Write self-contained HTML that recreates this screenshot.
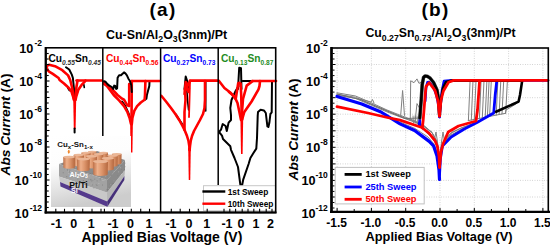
<!DOCTYPE html>
<html><head><meta charset="utf-8"><style>
html,body{margin:0;padding:0;background:#fff;width:550px;height:246px;overflow:hidden}
svg{display:block}
</style></head><body>
<svg width="550" height="246" viewBox="0 0 550 246">
<rect width="550" height="246" fill="#fff"/>
<polyline points="66.0,67.3 69.2,69.5 71.8,74.6 72.9,78.0 73.5,84.0 73.9,88.0 74.3,96.0" fill="none" stroke="#000000" stroke-width="2.0" stroke-linejoin="round" stroke-linecap="round" />
<polyline points="67.8,88.0 69.4,90.6" fill="none" stroke="#000000" stroke-width="1.6" stroke-linejoin="round" stroke-linecap="round" />
<polyline points="83.8,84.5 84.3,87.5" fill="none" stroke="#000000" stroke-width="1.6" stroke-linejoin="round" stroke-linecap="round" />
<polyline points="47.0,65.9 49.1,64.8 55.0,66.2 62.3,70.2 68.1,75.4 70.2,80.0 72.2,88.0 73.4,96.3 74.3,100.0" fill="none" stroke="#ff0000" stroke-width="2.6" stroke-linejoin="round" stroke-linecap="round" />
<polyline points="46.9,68.0 47.7,70.2 49.1,71.7 52.8,73.9 58.6,78.0 59.6,80.0 64.0,83.5 68.6,87.7 71.4,91.4 73.0,96.3 73.9,100.0" fill="none" stroke="#ff0000" stroke-width="2.6" stroke-linejoin="round" stroke-linecap="round" />
<polyline points="77.5,80.5 76.3,88.0 75.5,96.3 75.0,100.0" fill="none" stroke="#ff0000" stroke-width="2.6" stroke-linejoin="round" stroke-linecap="round" />
<polyline points="85.5,80.5 84.8,81.6 81.6,84.9 78.3,89.8 76.3,96.3 75.5,100.0" fill="none" stroke="#ff0000" stroke-width="2.6" stroke-linejoin="round" stroke-linecap="round" />
<polygon points="73.20,98 76.20,98 75.60,129 73.80,129" fill="#ff0000"/>
<polyline points="74.6,128.5 74.6,132.5" fill="none" stroke="#000000" stroke-width="2" stroke-linejoin="round" stroke-linecap="round" />
<polyline points="76.5,80.5 102.0,80.5" fill="none" stroke="#ff0000" stroke-width="2.6" stroke-linejoin="round" stroke-linecap="round" />
<polyline points="122.0,101.5 125.0,105.5 128.7,113.7 130.5,119.0" fill="none" stroke="#000000" stroke-width="2.0" stroke-linejoin="round" stroke-linecap="round" />
<polyline points="149.5,81.8 149.3,86.0 146.9,95.0 146.4,98.7 145.0,99.7" fill="none" stroke="#000000" stroke-width="2.0" stroke-linejoin="round" stroke-linecap="round" />
<polyline points="104.0,82.0 107.0,86.0 113.7,95.0 119.3,100.6 124.0,106.2 127.3,111.8 129.6,118.0 131.0,124.0" fill="none" stroke="#ff0000" stroke-width="2.6" stroke-linejoin="round" stroke-linecap="round" />
<polyline points="104.0,84.0 111.8,89.0 117.5,95.0 122.1,98.7 124.0,99.7 127.3,105.3 129.2,106.0 129.2,84.0" fill="none" stroke="#ff0000" stroke-width="2.6" stroke-linejoin="round" stroke-linecap="round" />
<polyline points="131.8,81.0 131.5,124.0" fill="none" stroke="#ff0000" stroke-width="2.6" stroke-linejoin="round" stroke-linecap="round" />
<polyline points="131.8,81.0 160.0,81.0" fill="none" stroke="#ff0000" stroke-width="2.6" stroke-linejoin="round" stroke-linecap="round" />
<polyline points="145.4,81.0 145.0,95.0 144.6,99.7 140.8,102.5 137.1,106.2 134.3,110.9 132.4,118.0 131.8,124.0" fill="none" stroke="#ff0000" stroke-width="2.6" stroke-linejoin="round" stroke-linecap="round" />
<polygon points="130.10,122 132.90,122 132.40,152.6 130.60,152.6" fill="#ff0000"/>
<polyline points="104.0,81.2 105.4,81.7 107.4,84.1 109.3,85.6 111.8,87.0 113.2,89.0 114.2,85.6 115.2,86.0 116.2,89.0 117.1,88.5 117.6,77.8 119.1,75.3 121.0,75.3 122.0,74.3 124.0,72.4 125.4,73.4 126.9,75.3 128.4,78.7 129.8,80.7 131.3,85.1 131.8,92.0" fill="none" stroke="#000000" stroke-width="2.0" stroke-linejoin="round" stroke-linecap="round" />
<polyline points="184.5,89.0 185.7,76.5 188.0,83.6 189.2,89.0" fill="none" stroke="#000000" stroke-width="2.0" stroke-linejoin="round" stroke-linecap="round" />
<polyline points="186.5,84.0 187.5,100.0 188.6,110.0" fill="none" stroke="#000000" stroke-width="1.6" stroke-linejoin="round" stroke-linecap="round" />
<polyline points="205.7,81.0 205.7,111.0" fill="none" stroke="#000000" stroke-width="1.6" stroke-linejoin="round" stroke-linecap="round" />
<polyline points="175.7,114.4 182.8,125.0" fill="none" stroke="#000000" stroke-width="2.0" stroke-linejoin="round" stroke-linecap="round" />
<polyline points="184.6,94.0 185.7,82.0 188.0,85.5 190.0,81.0" fill="none" stroke="#ff0000" stroke-width="2.6" stroke-linejoin="round" stroke-linecap="round" />
<polyline points="185.5,90.0 187.0,86.0 188.5,92.0" fill="none" stroke="#ff0000" stroke-width="2.6" stroke-linejoin="round" stroke-linecap="round" />
<polyline points="190.0,80.6 218.0,80.6" fill="none" stroke="#ff0000" stroke-width="2.6" stroke-linejoin="round" stroke-linecap="round" />
<polyline points="185.0,89.0 185.5,100.0 184.5,112.0 184.5,130.0" fill="none" stroke="#ff0000" stroke-width="2.6" stroke-linejoin="round" stroke-linecap="round" />
<polyline points="190.0,81.0 189.5,100.0 189.0,117.0" fill="none" stroke="#ff0000" stroke-width="1.8" stroke-linejoin="round" stroke-linecap="round" />
<polyline points="161.5,96.0 166.0,101.5 171.0,108.0 175.7,114.5 179.5,120.5 182.5,126.0 185.0,131.0 187.0,136.0 188.5,141.0 189.3,146.0 189.6,150.0" fill="none" stroke="#ff0000" stroke-width="2.6" stroke-linejoin="round" stroke-linecap="round" />
<polyline points="205.0,81.0 205.0,100.0 204.5,108.0 203.0,114.0 200.0,120.0 197.0,125.5 194.0,131.0 192.0,136.0 190.7,141.0 190.0,146.0 189.6,150.0" fill="none" stroke="#ff0000" stroke-width="2.6" stroke-linejoin="round" stroke-linecap="round" />
<polygon points="188.20,148 190.80,148 190.25,180 188.75,180" fill="#ff0000"/>
<polyline points="238.0,89.0 239.2,67.7 241.0,68.3 241.5,89.0" fill="none" stroke="#000000" stroke-width="2.0" stroke-linejoin="round" stroke-linecap="round" />
<polyline points="238.6,86.0 235.6,91.0 231.5,100.0 230.3,108.0 231.0,115.0 231.0,120.0 228.6,122.6 226.8,131.0 225.6,126.0 222.7,124.0 221.0,129.7 219.0,132.0 222.0,135.6 223.0,139.0 230.3,146.3 231.0,149.8 234.5,158.0 238.0,167.0 240.4,185.2 242.0,185.8 243.3,179.3 248.6,164.0 250.4,158.0 253.3,153.3 256.3,148.6 257.0,138.0 257.7,116.0 258.0,112.0 260.6,109.8 263.9,110.4 265.8,113.0 267.4,126.4 268.4,127.0 269.4,122.5 270.4,114.0 271.7,112.4 272.0,81.0 242.7,81.0" fill="none" stroke="#000000" stroke-width="2.0" stroke-linejoin="round" stroke-linecap="round" />
<polyline points="219.0,81.0 224.4,88.0 230.9,93.0 235.7,99.0 238.2,83.2 239.5,82.8 240.6,83.5 241.2,95.0 241.6,110.0 241.8,120.0" fill="none" stroke="#ff0000" stroke-width="2.6" stroke-linejoin="round" stroke-linecap="round" />
<polyline points="229.0,92.0 234.5,96.6 237.5,103.0 239.4,112.0 241.0,120.0" fill="none" stroke="#ff0000" stroke-width="2.6" stroke-linejoin="round" stroke-linecap="round" />
<polyline points="252.8,81.0 246.7,85.6 243.0,99.0 242.0,112.0 241.8,120.0" fill="none" stroke="#ff0000" stroke-width="2.6" stroke-linejoin="round" stroke-linecap="round" />
<polyline points="260.0,81.0 259.5,86.0 258.5,89.3 251.6,101.5 244.3,112.0 242.0,120.0" fill="none" stroke="#ff0000" stroke-width="2.6" stroke-linejoin="round" stroke-linecap="round" />
<polyline points="252.0,81.0 276.0,81.0" fill="none" stroke="#ff0000" stroke-width="2.6" stroke-linejoin="round" stroke-linecap="round" />
<polygon points="240.40,118 243.20,118 242.60,154 241.00,154" fill="#ff0000"/>

<defs>
 <linearGradient id="ibg" x1="0" y1="0" x2="0.25" y2="1">
  <stop offset="0" stop-color="#ffffff"/><stop offset="0.4" stop-color="#fdfdfd"/><stop offset="0.75" stop-color="#e2e2e2"/><stop offset="1" stop-color="#cdcdcd"/>
 </linearGradient>
 <linearGradient id="cyl" x1="0" y1="0" x2="1" y2="0">
  <stop offset="0" stop-color="#bd7048"/><stop offset="0.3" stop-color="#eeb08a"/><stop offset="0.6" stop-color="#dc946a"/><stop offset="1" stop-color="#b5683f"/>
 </linearGradient>
 <filter id="noise" x="0" y="0" width="1" height="1">
  <feTurbulence type="fractalNoise" baseFrequency="0.9" numOctaves="1" seed="3"/>
  <feColorMatrix values="0 0 0 0 0.3  0 0 0 0 0.3  0 0 0 0 0.3  0 0 0 3 -1.35"/>
  <feComposite in2="SourceGraphic" operator="in"/>
 </filter>
</defs>
<rect x="47" y="136" width="84" height="38" fill="#fff"/><rect x="51" y="136" width="80" height="71" fill="url(#ibg)"/>

<polygon points="59,164 107,180 125,160 97,151" fill="#8c8c8c"/>
<polygon points="59,164 107,180 107,192.5 59,176.6" fill="#a2a2a2"/>
<polygon points="59,176.6 107,192.5 107.2,201.5 60,182" fill="#c8c8c8"/>
<polygon points="60,182 107.2,201.5 107.4,206.7 60.5,186.5" fill="#553a8c"/>
<polygon points="107,180 125,160 125,170 107,192.5" fill="#8a8a8a"/>
<polygon points="107,192.5 125,170 124.5,176 107.2,201.5" fill="#b6b6b6"/>
<polygon points="107.2,201.5 124.5,176 124.3,180 107.4,206.7" fill="#46307a"/>
<rect x="62.8" y="172.3" width="0.9" height="0.9" fill="rgb(90,90,90)" opacity="0.45"/><rect x="64.7" y="168.6" width="0.9" height="0.9" fill="rgb(110,110,110)" opacity="0.45"/><rect x="65.0" y="168.8" width="0.9" height="0.9" fill="rgb(200,200,200)" opacity="0.45"/><rect x="70.9" y="175.4" width="0.9" height="0.9" fill="rgb(215,215,215)" opacity="0.45"/><rect x="94.1" y="183.6" width="0.9" height="0.9" fill="rgb(180,180,180)" opacity="0.45"/><rect x="66.8" y="168.6" width="0.9" height="0.9" fill="rgb(120,120,120)" opacity="0.45"/><rect x="69.0" y="171.5" width="0.9" height="0.9" fill="rgb(90,90,90)" opacity="0.45"/><rect x="95.8" y="184.1" width="0.9" height="0.9" fill="rgb(120,120,120)" opacity="0.45"/><rect x="91.8" y="184.5" width="0.9" height="0.9" fill="rgb(90,90,90)" opacity="0.45"/><rect x="90.3" y="178.9" width="0.9" height="0.9" fill="rgb(90,90,90)" opacity="0.45"/><rect x="97.1" y="179.6" width="0.9" height="0.9" fill="rgb(180,180,180)" opacity="0.45"/><rect x="88.6" y="174.1" width="0.9" height="0.9" fill="rgb(110,110,110)" opacity="0.45"/><rect x="74.4" y="171.4" width="0.9" height="0.9" fill="rgb(200,200,200)" opacity="0.45"/><rect x="68.6" y="173.5" width="0.9" height="0.9" fill="rgb(200,200,200)" opacity="0.45"/><rect x="99.8" y="179.4" width="0.9" height="0.9" fill="rgb(90,90,90)" opacity="0.45"/><rect x="66.3" y="176.2" width="0.9" height="0.9" fill="rgb(90,90,90)" opacity="0.45"/><rect x="65.7" y="166.3" width="0.9" height="0.9" fill="rgb(90,90,90)" opacity="0.45"/><rect x="83.8" y="177.6" width="0.9" height="0.9" fill="rgb(120,120,120)" opacity="0.45"/><rect x="66.6" y="171.5" width="0.9" height="0.9" fill="rgb(180,180,180)" opacity="0.45"/><rect x="82.9" y="180.0" width="0.9" height="0.9" fill="rgb(90,90,90)" opacity="0.45"/><rect x="73.7" y="173.7" width="0.9" height="0.9" fill="rgb(200,200,200)" opacity="0.45"/><rect x="74.0" y="172.7" width="0.9" height="0.9" fill="rgb(120,120,120)" opacity="0.45"/><rect x="71.8" y="176.4" width="0.9" height="0.9" fill="rgb(120,120,120)" opacity="0.45"/><rect x="72.5" y="177.2" width="0.9" height="0.9" fill="rgb(200,200,200)" opacity="0.45"/><rect x="102.1" y="184.6" width="0.9" height="0.9" fill="rgb(90,90,90)" opacity="0.45"/><rect x="84.6" y="180.9" width="0.9" height="0.9" fill="rgb(110,110,110)" opacity="0.45"/><rect x="89.2" y="175.5" width="0.9" height="0.9" fill="rgb(200,200,200)" opacity="0.45"/><rect x="70.4" y="170.9" width="0.9" height="0.9" fill="rgb(215,215,215)" opacity="0.45"/><rect x="90.8" y="183.6" width="0.9" height="0.9" fill="rgb(200,200,200)" opacity="0.45"/><rect x="77.3" y="172.3" width="0.9" height="0.9" fill="rgb(180,180,180)" opacity="0.45"/><rect x="93.5" y="187.8" width="0.9" height="0.9" fill="rgb(120,120,120)" opacity="0.45"/><rect x="72.4" y="169.8" width="0.9" height="0.9" fill="rgb(180,180,180)" opacity="0.45"/><rect x="67.0" y="169.6" width="0.9" height="0.9" fill="rgb(90,90,90)" opacity="0.45"/><rect x="68.1" y="170.6" width="0.9" height="0.9" fill="rgb(215,215,215)" opacity="0.45"/><rect x="80.0" y="181.3" width="0.9" height="0.9" fill="rgb(90,90,90)" opacity="0.45"/><rect x="103.6" y="190.7" width="0.9" height="0.9" fill="rgb(180,180,180)" opacity="0.45"/><rect x="96.7" y="180.4" width="0.9" height="0.9" fill="rgb(90,90,90)" opacity="0.45"/><rect x="105.8" y="190.4" width="0.9" height="0.9" fill="rgb(110,110,110)" opacity="0.45"/><rect x="88.4" y="179.2" width="0.9" height="0.9" fill="rgb(120,120,120)" opacity="0.45"/><rect x="71.5" y="170.9" width="0.9" height="0.9" fill="rgb(180,180,180)" opacity="0.45"/><rect x="92.4" y="179.9" width="0.9" height="0.9" fill="rgb(110,110,110)" opacity="0.45"/><rect x="69.4" y="169.7" width="0.9" height="0.9" fill="rgb(120,120,120)" opacity="0.45"/><rect x="77.4" y="178.6" width="0.9" height="0.9" fill="rgb(110,110,110)" opacity="0.45"/><rect x="74.4" y="175.6" width="0.9" height="0.9" fill="rgb(200,200,200)" opacity="0.45"/><rect x="98.4" y="183.1" width="0.9" height="0.9" fill="rgb(215,215,215)" opacity="0.45"/><rect x="68.2" y="173.0" width="0.9" height="0.9" fill="rgb(200,200,200)" opacity="0.45"/><rect x="96.5" y="185.1" width="0.9" height="0.9" fill="rgb(90,90,90)" opacity="0.45"/><rect x="94.3" y="178.7" width="0.9" height="0.9" fill="rgb(90,90,90)" opacity="0.45"/><rect x="74.2" y="178.3" width="0.9" height="0.9" fill="rgb(180,180,180)" opacity="0.45"/><rect x="90.6" y="179.7" width="0.9" height="0.9" fill="rgb(90,90,90)" opacity="0.45"/><rect x="99.7" y="178.0" width="0.9" height="0.9" fill="rgb(90,90,90)" opacity="0.45"/><rect x="102.0" y="180.1" width="0.9" height="0.9" fill="rgb(200,200,200)" opacity="0.45"/><rect x="103.4" y="180.1" width="0.9" height="0.9" fill="rgb(215,215,215)" opacity="0.45"/><rect x="91.3" y="180.8" width="0.9" height="0.9" fill="rgb(120,120,120)" opacity="0.45"/><rect x="89.3" y="185.4" width="0.9" height="0.9" fill="rgb(180,180,180)" opacity="0.45"/><rect x="82.7" y="176.3" width="0.9" height="0.9" fill="rgb(215,215,215)" opacity="0.45"/><rect x="106.1" y="188.9" width="0.9" height="0.9" fill="rgb(120,120,120)" opacity="0.45"/><rect x="108.9" y="186.9" width="0.9" height="0.9" fill="rgb(120,120,120)" opacity="0.45"/><rect x="121.1" y="174.1" width="0.9" height="0.9" fill="rgb(215,215,215)" opacity="0.45"/><rect x="113.5" y="180.4" width="0.9" height="0.9" fill="rgb(180,180,180)" opacity="0.45"/><rect x="124.8" y="162.7" width="0.9" height="0.9" fill="rgb(120,120,120)" opacity="0.45"/><rect x="121.8" y="171.8" width="0.9" height="0.9" fill="rgb(110,110,110)" opacity="0.45"/><rect x="118.2" y="171.4" width="0.9" height="0.9" fill="rgb(215,215,215)" opacity="0.45"/><rect x="124.0" y="169.6" width="0.9" height="0.9" fill="rgb(90,90,90)" opacity="0.45"/><rect x="112.6" y="183.2" width="0.9" height="0.9" fill="rgb(90,90,90)" opacity="0.45"/><rect x="110.2" y="184.2" width="0.9" height="0.9" fill="rgb(180,180,180)" opacity="0.45"/><rect x="109.1" y="183.7" width="0.9" height="0.9" fill="rgb(120,120,120)" opacity="0.45"/><rect x="117.4" y="175.3" width="0.9" height="0.9" fill="rgb(120,120,120)" opacity="0.45"/><rect x="107.3" y="189.4" width="0.9" height="0.9" fill="rgb(90,90,90)" opacity="0.45"/><rect x="108.2" y="188.1" width="0.9" height="0.9" fill="rgb(180,180,180)" opacity="0.45"/><rect x="124.8" y="166.3" width="0.9" height="0.9" fill="rgb(110,110,110)" opacity="0.45"/><rect x="121.2" y="169.2" width="0.9" height="0.9" fill="rgb(110,110,110)" opacity="0.45"/><rect x="120.1" y="167.3" width="0.9" height="0.9" fill="rgb(215,215,215)" opacity="0.45"/><rect x="110.6" y="167.9" width="0.9" height="0.9" fill="rgb(120,120,120)" opacity="0.45"/><rect x="98.3" y="175.3" width="0.9" height="0.9" fill="rgb(200,200,200)" opacity="0.45"/><rect x="85.8" y="161.0" width="0.9" height="0.9" fill="rgb(90,90,90)" opacity="0.45"/><rect x="101.7" y="168.4" width="0.9" height="0.9" fill="rgb(200,200,200)" opacity="0.45"/><rect x="70.5" y="164.0" width="0.9" height="0.9" fill="rgb(120,120,120)" opacity="0.45"/><rect x="106.8" y="171.1" width="0.9" height="0.9" fill="rgb(200,200,200)" opacity="0.45"/><rect x="108.2" y="170.5" width="0.9" height="0.9" fill="rgb(215,215,215)" opacity="0.45"/><rect x="102.3" y="158.4" width="0.9" height="0.9" fill="rgb(90,90,90)" opacity="0.45"/><rect x="114.6" y="159.5" width="0.9" height="0.9" fill="rgb(110,110,110)" opacity="0.45"/><rect x="108.2" y="164.7" width="0.9" height="0.9" fill="rgb(180,180,180)" opacity="0.45"/><rect x="80.7" y="161.0" width="0.9" height="0.9" fill="rgb(215,215,215)" opacity="0.45"/><rect x="90.2" y="173.3" width="0.9" height="0.9" fill="rgb(90,90,90)" opacity="0.45"/><rect x="115.6" y="169.4" width="0.9" height="0.9" fill="rgb(215,215,215)" opacity="0.45"/><rect x="111.1" y="167.4" width="0.9" height="0.9" fill="rgb(200,200,200)" opacity="0.45"/><rect x="81.8" y="157.0" width="0.9" height="0.9" fill="rgb(90,90,90)" opacity="0.45"/><rect x="101.5" y="152.8" width="0.9" height="0.9" fill="rgb(90,90,90)" opacity="0.45"/><rect x="98.0" y="166.3" width="0.9" height="0.9" fill="rgb(200,200,200)" opacity="0.45"/><rect x="72.5" y="164.4" width="0.9" height="0.9" fill="rgb(180,180,180)" opacity="0.45"/><rect x="76.2" y="165.7" width="0.9" height="0.9" fill="rgb(120,120,120)" opacity="0.45"/><rect x="98.7" y="171.0" width="0.9" height="0.9" fill="rgb(120,120,120)" opacity="0.45"/><rect x="99.8" y="152.3" width="0.9" height="0.9" fill="rgb(180,180,180)" opacity="0.45"/><rect x="96.9" y="163.1" width="0.9" height="0.9" fill="rgb(180,180,180)" opacity="0.45"/><rect x="77.7" y="160.0" width="0.9" height="0.9" fill="rgb(215,215,215)" opacity="0.45"/><rect x="96.0" y="155.4" width="0.9" height="0.9" fill="rgb(120,120,120)" opacity="0.45"/><rect x="82.5" y="167.9" width="0.9" height="0.9" fill="rgb(180,180,180)" opacity="0.45"/><rect x="83.5" y="163.7" width="0.9" height="0.9" fill="rgb(180,180,180)" opacity="0.45"/><rect x="82.0" y="164.7" width="0.9" height="0.9" fill="rgb(110,110,110)" opacity="0.45"/><rect x="95.5" y="164.6" width="0.9" height="0.9" fill="rgb(180,180,180)" opacity="0.45"/><rect x="97.2" y="156.3" width="0.9" height="0.9" fill="rgb(180,180,180)" opacity="0.45"/><rect x="92.5" y="162.2" width="0.9" height="0.9" fill="rgb(215,215,215)" opacity="0.45"/><rect x="106.7" y="176.3" width="0.9" height="0.9" fill="rgb(120,120,120)" opacity="0.45"/><rect x="69.6" y="164.8" width="0.9" height="0.9" fill="rgb(110,110,110)" opacity="0.45"/><rect x="102.4" y="159.2" width="0.9" height="0.9" fill="rgb(110,110,110)" opacity="0.45"/><rect x="107.4" y="169.3" width="0.9" height="0.9" fill="rgb(110,110,110)" opacity="0.45"/><rect x="115.4" y="169.3" width="0.9" height="0.9" fill="rgb(110,110,110)" opacity="0.45"/><rect x="89.6" y="157.0" width="0.9" height="0.9" fill="rgb(200,200,200)" opacity="0.45"/><rect x="105.3" y="175.7" width="0.9" height="0.9" fill="rgb(215,215,215)" opacity="0.45"/><rect x="86.8" y="160.6" width="0.9" height="0.9" fill="rgb(215,215,215)" opacity="0.45"/><rect x="101.4" y="175.5" width="0.9" height="0.9" fill="rgb(110,110,110)" opacity="0.45"/><rect x="103.9" y="177.9" width="0.9" height="0.9" fill="rgb(180,180,180)" opacity="0.45"/><rect x="87.5" y="161.9" width="0.9" height="0.9" fill="rgb(215,215,215)" opacity="0.45"/><rect x="100.6" y="161.5" width="0.9" height="0.9" fill="rgb(180,180,180)" opacity="0.45"/><rect x="118.0" y="164.8" width="0.9" height="0.9" fill="rgb(90,90,90)" opacity="0.45"/><rect x="84.7" y="171.6" width="0.9" height="0.9" fill="rgb(90,90,90)" opacity="0.45"/><rect x="77.1" y="167.8" width="0.9" height="0.9" fill="rgb(90,90,90)" opacity="0.45"/><rect x="97.3" y="155.6" width="0.9" height="0.9" fill="rgb(120,120,120)" opacity="0.45"/><rect x="93.8" y="160.2" width="0.9" height="0.9" fill="rgb(180,180,180)" opacity="0.45"/><rect x="89.5" y="157.9" width="0.9" height="0.9" fill="rgb(90,90,90)" opacity="0.45"/><rect x="89.9" y="163.4" width="0.9" height="0.9" fill="rgb(200,200,200)" opacity="0.45"/><rect x="103.8" y="171.2" width="0.9" height="0.9" fill="rgb(215,215,215)" opacity="0.45"/><rect x="111.7" y="166.0" width="0.9" height="0.9" fill="rgb(215,215,215)" opacity="0.45"/><rect x="102.5" y="166.2" width="0.9" height="0.9" fill="rgb(120,120,120)" opacity="0.45"/><rect x="110.7" y="156.9" width="0.9" height="0.9" fill="rgb(120,120,120)" opacity="0.45"/><rect x="102.3" y="161.5" width="0.9" height="0.9" fill="rgb(90,90,90)" opacity="0.45"/><rect x="110.8" y="159.8" width="0.9" height="0.9" fill="rgb(180,180,180)" opacity="0.45"/><rect x="111.3" y="158.1" width="0.9" height="0.9" fill="rgb(215,215,215)" opacity="0.45"/><rect x="95.6" y="162.1" width="0.9" height="0.9" fill="rgb(110,110,110)" opacity="0.45"/><rect x="113.6" y="170.9" width="0.9" height="0.9" fill="rgb(200,200,200)" opacity="0.45"/><rect x="91.9" y="173.7" width="0.9" height="0.9" fill="rgb(215,215,215)" opacity="0.45"/><rect x="83.7" y="168.6" width="0.9" height="0.9" fill="rgb(215,215,215)" opacity="0.45"/><rect x="120.5" y="164.9" width="0.9" height="0.9" fill="rgb(90,90,90)" opacity="0.45"/><rect x="92.7" y="171.4" width="0.9" height="0.9" fill="rgb(110,110,110)" opacity="0.45"/><rect x="100.3" y="165.2" width="0.9" height="0.9" fill="rgb(215,215,215)" opacity="0.45"/><rect x="83.2" y="170.9" width="0.9" height="0.9" fill="rgb(200,200,200)" opacity="0.45"/><rect x="77.8" y="165.4" width="0.9" height="0.9" fill="rgb(120,120,120)" opacity="0.45"/><rect x="85.6" y="172.2" width="0.9" height="0.9" fill="rgb(120,120,120)" opacity="0.45"/><rect x="116.6" y="165.5" width="0.9" height="0.9" fill="rgb(110,110,110)" opacity="0.45"/><rect x="80.8" y="164.3" width="0.9" height="0.9" fill="rgb(120,120,120)" opacity="0.45"/><rect x="85.3" y="155.6" width="0.9" height="0.9" fill="rgb(90,90,90)" opacity="0.45"/><rect x="99.4" y="176.9" width="0.9" height="0.9" fill="rgb(215,215,215)" opacity="0.45"/><rect x="100.3" y="158.3" width="0.9" height="0.9" fill="rgb(215,215,215)" opacity="0.45"/><rect x="102.3" y="166.5" width="0.9" height="0.9" fill="rgb(110,110,110)" opacity="0.45"/><rect x="110.9" y="174.6" width="0.9" height="0.9" fill="rgb(120,120,120)" opacity="0.45"/><rect x="115.9" y="158.8" width="0.9" height="0.9" fill="rgb(90,90,90)" opacity="0.45"/><rect x="80.0" y="169.1" width="0.9" height="0.9" fill="rgb(215,215,215)" opacity="0.45"/><rect x="91.9" y="172.9" width="0.9" height="0.9" fill="rgb(90,90,90)" opacity="0.45"/><rect x="110.1" y="168.7" width="0.9" height="0.9" fill="rgb(215,215,215)" opacity="0.45"/><rect x="86.2" y="155.3" width="0.9" height="0.9" fill="rgb(215,215,215)" opacity="0.45"/><rect x="100.4" y="168.9" width="0.9" height="0.9" fill="rgb(90,90,90)" opacity="0.45"/><rect x="104.1" y="156.1" width="0.9" height="0.9" fill="rgb(90,90,90)" opacity="0.45"/><rect x="90.2" y="162.6" width="0.9" height="0.9" fill="rgb(200,200,200)" opacity="0.45"/><rect x="105.8" y="170.3" width="0.9" height="0.9" fill="rgb(120,120,120)" opacity="0.45"/><rect x="99.8" y="167.3" width="0.9" height="0.9" fill="rgb(120,120,120)" opacity="0.45"/><rect x="107.1" y="158.0" width="0.9" height="0.9" fill="rgb(180,180,180)" opacity="0.45"/><rect x="99.2" y="164.3" width="0.9" height="0.9" fill="rgb(200,200,200)" opacity="0.45"/><rect x="107.0" y="170.7" width="0.9" height="0.9" fill="rgb(110,110,110)" opacity="0.45"/><rect x="100.6" y="168.6" width="0.9" height="0.9" fill="rgb(180,180,180)" opacity="0.45"/><rect x="110.4" y="170.0" width="0.9" height="0.9" fill="rgb(120,120,120)" opacity="0.45"/><rect x="110.8" y="174.8" width="0.9" height="0.9" fill="rgb(120,120,120)" opacity="0.45"/><rect x="75.2" y="167.3" width="0.9" height="0.9" fill="rgb(180,180,180)" opacity="0.45"/>
<path d="M88.0,151.7 L88.2,160.7 A4.2,1.1 0 0 0 96.2,160.7 L96.4,151.7 Z" fill="url(#cyl)"/><ellipse cx="92.2" cy="151.7" rx="4.2" ry="0.9" fill="#ebb797"/>
<path d="M99.0,152.8 L99.2,161.8 A4.5,1.2 0 0 0 107.8,161.8 L108.0,152.8 Z" fill="url(#cyl)"/><ellipse cx="103.5" cy="152.8" rx="4.5" ry="1.0" fill="#ebb797"/>
<path d="M112.0,154.0 L112.2,163.5 A4.8,1.3 0 0 0 121.4,163.5 L121.6,154.0 Z" fill="url(#cyl)"/><ellipse cx="116.8" cy="154.0" rx="4.8" ry="1.1" fill="#ebb797"/>
<path d="M81.4,152.8 L81.6,162.3 A4.6,1.2 0 0 0 90.4,162.3 L90.6,152.8 Z" fill="url(#cyl)"/><ellipse cx="86.0" cy="152.8" rx="4.6" ry="1.0" fill="#ebb797"/>
<path d="M93.8,154.2 L94.0,164.2 A4.8,1.3 0 0 0 103.2,164.2 L103.4,154.2 Z" fill="url(#cyl)"/><ellipse cx="98.6" cy="154.2" rx="4.8" ry="1.1" fill="#ebb797"/>
<path d="M107.4,155.7 L107.6,165.7 A5.2,1.4 0 0 0 117.6,165.7 L117.8,155.7 Z" fill="url(#cyl)"/><ellipse cx="112.6" cy="155.7" rx="5.2" ry="1.1" fill="#ebb797"/>
<path d="M73.6,154.9 L73.8,165.4 A5.2,1.4 0 0 0 83.8,165.4 L84.0,154.9 Z" fill="url(#cyl)"/><ellipse cx="78.8" cy="154.9" rx="5.2" ry="1.1" fill="#ebb797"/>
<path d="M86.0,156.3 L86.2,167.3 A5.5,1.5 0 0 0 96.8,167.3 L97.0,156.3 Z" fill="url(#cyl)"/><ellipse cx="91.5" cy="156.3" rx="5.5" ry="1.2" fill="#ebb797"/>
<path d="M101.6,158.3 L101.8,169.3 A6.2,1.6 0 0 0 113.8,169.3 L114.0,158.3 Z" fill="url(#cyl)"/><ellipse cx="107.8" cy="158.3" rx="6.2" ry="1.4" fill="#ebb797"/>
<path d="M63.2,157.0 L63.4,167.5 A5.9,1.6 0 0 0 74.8,167.5 L75.0,157.0 Z" fill="url(#cyl)"/><ellipse cx="69.1" cy="157.0" rx="5.9" ry="1.3" fill="#ebb797"/>
<path d="M76.9,159.1 L77.2,170.1 A6.5,1.7 0 0 0 89.6,170.1 L89.9,159.1 Z" fill="url(#cyl)"/><ellipse cx="83.4" cy="159.1" rx="6.5" ry="1.4" fill="#ebb797"/>
<path d="M93.0,161.5 L93.3,174.5 A7.5,2.0 0 0 0 107.7,174.5 L108.0,161.5 Z" fill="url(#cyl)"/><ellipse cx="100.5" cy="161.5" rx="7.5" ry="1.6" fill="#ebb797"/>
<text x="57.2" y="146.6" font-family='"Liberation Sans", sans-serif' font-weight="bold" font-size="7.9" fill="#111">Cu<tspan font-size="6.2" dy="2">x</tspan><tspan dy="-2">-Sn</tspan><tspan font-size="6.2" dy="2">1-x</tspan></text>
<line x1="68.8" y1="150" x2="68.8" y2="152" stroke="#f08020" stroke-width="1.3"/><polygon points="67.3,151.5 70.3,151.5 68.8,154" fill="#f08020"/>
<text x="69.5" y="177" font-family='"Liberation Sans", sans-serif' font-weight="bold" font-size="7.2" fill="#fff">Al<tspan font-size="5" dy="1">2</tspan><tspan dy="-1">O</tspan><tspan font-size="5" dy="1">3</tspan></text>
<text x="69.3" y="187.5" font-family='"Liberation Sans", sans-serif' font-weight="bold" font-size="8.6" fill="#111">Pt/Ti</text>
<text x="71" y="193" font-family='"Liberation Sans", sans-serif' font-weight="bold" font-size="7.2" fill="#fff">Si</text>
<rect x="203.5" y="185.7" width="72" height="25" fill="#fff" stroke="#c8c8c8" stroke-width="1"/>
<line x1="202.4" y1="191.5" x2="225.3" y2="191.5" stroke="#000" stroke-width="2.4"/>
<line x1="202.4" y1="203.7" x2="225.3" y2="203.7" stroke="#f00" stroke-width="2.4"/>
<text x="227.7" y="194.7" font-family='"Liberation Sans", sans-serif' font-weight="bold" font-size="8.3" fill="#000">1st Sweep</text>
<text x="227.7" y="206.7" font-family='"Liberation Sans", sans-serif' font-weight="bold" font-size="8.3" fill="#000">10th Sweep</text>
<g fill="none" stroke="#000">
<rect x="45.8" y="47.8" width="229.9" height="164.7" stroke-width="1.6"/>
<line x1="45.7" y1="47" x2="45.7" y2="213.5" stroke-width="2.2"/>
<line x1="44.6" y1="212.5" x2="276.5" y2="212.5" stroke-width="2"/>
<line x1="102.8" y1="47.5" x2="102.8" y2="136" stroke-width="1.5"/>
<line x1="160.6" y1="47.5" x2="160.6" y2="212" stroke-width="1.5"/>
<line x1="218.2" y1="47.5" x2="218.2" y2="185" stroke-width="1.5"/>
</g>
<line x1="46.5" y1="53.5" x2="48.7" y2="53.5" stroke="#000" stroke-width="1.1"/><line x1="46.5" y1="59.0" x2="48.7" y2="59.0" stroke="#000" stroke-width="1.1"/><line x1="46.5" y1="64.5" x2="49.5" y2="64.5" stroke="#000" stroke-width="1.1"/><line x1="46.5" y1="70.0" x2="48.7" y2="70.0" stroke="#000" stroke-width="1.1"/><line x1="46.5" y1="75.5" x2="48.7" y2="75.5" stroke="#000" stroke-width="1.1"/><line x1="46.5" y1="81.0" x2="49.5" y2="81.0" stroke="#000" stroke-width="1.1"/><line x1="46.5" y1="86.5" x2="48.7" y2="86.5" stroke="#000" stroke-width="1.1"/><line x1="46.5" y1="92.0" x2="48.7" y2="92.0" stroke="#000" stroke-width="1.1"/><line x1="46.5" y1="97.5" x2="49.5" y2="97.5" stroke="#000" stroke-width="1.1"/><line x1="46.5" y1="103.0" x2="48.7" y2="103.0" stroke="#000" stroke-width="1.1"/><line x1="46.5" y1="108.5" x2="48.7" y2="108.5" stroke="#000" stroke-width="1.1"/><line x1="46.5" y1="114.0" x2="49.5" y2="114.0" stroke="#000" stroke-width="1.1"/><line x1="46.5" y1="119.5" x2="48.7" y2="119.5" stroke="#000" stroke-width="1.1"/><line x1="46.5" y1="125.0" x2="48.7" y2="125.0" stroke="#000" stroke-width="1.1"/><line x1="46.5" y1="130.5" x2="49.5" y2="130.5" stroke="#000" stroke-width="1.1"/><line x1="46.5" y1="136.0" x2="48.7" y2="136.0" stroke="#000" stroke-width="1.1"/><line x1="46.5" y1="141.5" x2="48.7" y2="141.5" stroke="#000" stroke-width="1.1"/><line x1="46.5" y1="147.0" x2="49.5" y2="147.0" stroke="#000" stroke-width="1.1"/><line x1="46.5" y1="152.5" x2="48.7" y2="152.5" stroke="#000" stroke-width="1.1"/><line x1="46.5" y1="158.0" x2="48.7" y2="158.0" stroke="#000" stroke-width="1.1"/><line x1="46.5" y1="163.5" x2="49.5" y2="163.5" stroke="#000" stroke-width="1.1"/><line x1="46.5" y1="169.0" x2="48.7" y2="169.0" stroke="#000" stroke-width="1.1"/><line x1="46.5" y1="174.5" x2="48.7" y2="174.5" stroke="#000" stroke-width="1.1"/><line x1="46.5" y1="180.0" x2="49.5" y2="180.0" stroke="#000" stroke-width="1.1"/><line x1="46.5" y1="185.5" x2="48.7" y2="185.5" stroke="#000" stroke-width="1.1"/><line x1="46.5" y1="191.0" x2="48.7" y2="191.0" stroke="#000" stroke-width="1.1"/><line x1="46.5" y1="196.5" x2="49.5" y2="196.5" stroke="#000" stroke-width="1.1"/><line x1="46.5" y1="202.0" x2="48.7" y2="202.0" stroke="#000" stroke-width="1.1"/><line x1="46.5" y1="207.5" x2="48.7" y2="207.5" stroke="#000" stroke-width="1.1"/>
<line x1="55.8" y1="212" x2="55.8" y2="208.8" stroke="#000" stroke-width="1.1"/><line x1="64.5" y1="212" x2="64.5" y2="208.8" stroke="#000" stroke-width="1.1"/><line x1="74.0" y1="212" x2="74.0" y2="208.8" stroke="#000" stroke-width="1.1"/><line x1="82.7" y1="212" x2="82.7" y2="208.8" stroke="#000" stroke-width="1.1"/><line x1="92.0" y1="212" x2="92.0" y2="208.8" stroke="#000" stroke-width="1.1"/><line x1="101.0" y1="212" x2="101.0" y2="208.8" stroke="#000" stroke-width="1.1"/><line x1="104.4" y1="212" x2="104.4" y2="208.8" stroke="#000" stroke-width="1.1"/><line x1="113.8" y1="212" x2="113.8" y2="208.8" stroke="#000" stroke-width="1.1"/><line x1="122.5" y1="212" x2="122.5" y2="208.8" stroke="#000" stroke-width="1.1"/><line x1="131.3" y1="212" x2="131.3" y2="208.8" stroke="#000" stroke-width="1.1"/><line x1="140.7" y1="212" x2="140.7" y2="208.8" stroke="#000" stroke-width="1.1"/><line x1="149.5" y1="212" x2="149.5" y2="208.8" stroke="#000" stroke-width="1.1"/><line x1="171.3" y1="212" x2="171.3" y2="208.8" stroke="#000" stroke-width="1.1"/><line x1="180.2" y1="212" x2="180.2" y2="208.8" stroke="#000" stroke-width="1.1"/><line x1="189.5" y1="212" x2="189.5" y2="208.8" stroke="#000" stroke-width="1.1"/><line x1="198.3" y1="212" x2="198.3" y2="208.8" stroke="#000" stroke-width="1.1"/><line x1="207.2" y1="212" x2="207.2" y2="208.8" stroke="#000" stroke-width="1.1"/><line x1="224.0" y1="212" x2="224.0" y2="208.8" stroke="#000" stroke-width="1.1"/><line x1="229.8" y1="212" x2="229.8" y2="208.8" stroke="#000" stroke-width="1.1"/><line x1="235.6" y1="212" x2="235.6" y2="208.8" stroke="#000" stroke-width="1.1"/><line x1="242.2" y1="212" x2="242.2" y2="208.8" stroke="#000" stroke-width="1.1"/><line x1="248.0" y1="212" x2="248.0" y2="208.8" stroke="#000" stroke-width="1.1"/><line x1="253.8" y1="212" x2="253.8" y2="208.8" stroke="#000" stroke-width="1.1"/><line x1="259.6" y1="212" x2="259.6" y2="208.8" stroke="#000" stroke-width="1.1"/><line x1="266.2" y1="212" x2="266.2" y2="208.8" stroke="#000" stroke-width="1.1"/><line x1="272.0" y1="212" x2="272.0" y2="208.8" stroke="#000" stroke-width="1.1"/>
<text x="48.5" y="61.6" font-family='"Liberation Sans", sans-serif' font-weight="bold" font-size="10.2" fill="#000">Cu<tspan font-size="6.6" dy="2.9" font-style="italic" fill="#333">0.55</tspan><tspan dy="-2.9">Sn</tspan><tspan font-size="6.6" dy="2.9" font-style="italic" fill="#333">0.45</tspan></text>
<text x="106" y="61.6" font-family='"Liberation Sans", sans-serif' font-weight="bold" font-size="10.2" fill="#ff0000">Cu<tspan font-size="6.6" dy="2.9" >0.44</tspan><tspan dy="-2.9">Sn</tspan><tspan font-size="6.6" dy="2.9" >0.56</tspan></text>
<text x="163" y="61.6" font-family='"Liberation Sans", sans-serif' font-weight="bold" font-size="10.2" fill="#0000ff">Cu<tspan font-size="6.6" dy="2.9" >0.27</tspan><tspan dy="-2.9">Sn</tspan><tspan font-size="6.6" dy="2.9" >0.73</tspan></text>
<text x="221" y="61.6" font-family='"Liberation Sans", sans-serif' font-weight="bold" font-size="10.2" fill="#1e8c1e">Cu<tspan font-size="6.6" dy="2.9" >0.13</tspan><tspan dy="-2.9">Sn</tspan><tspan font-size="6.6" dy="2.9" >0.87</tspan></text>
<text x="163" y="15.5" text-anchor="middle" font-family='"Liberation Sans", sans-serif' font-weight="bold" font-size="19" letter-spacing="1.3">(a)</text>
<text x="166.6" y="38.5" text-anchor="middle" font-family='"Liberation Sans", sans-serif' font-weight="bold" font-size="12.4">Cu-Sn/Al<tspan font-size="8.7" dy="3">2</tspan><tspan dy="-3">O</tspan><tspan font-size="8.7" dy="3">3</tspan><tspan dy="-3">(3nm)/Pt</tspan></text>
<text x="42" y="52.6" text-anchor="end" font-family='"Liberation Sans", sans-serif' font-weight="bold" font-size="12.7">10<tspan font-size="8.5" dx="1" dy="-6.2">-2</tspan></text><text x="42" y="85.6" text-anchor="end" font-family='"Liberation Sans", sans-serif' font-weight="bold" font-size="12.7">10<tspan font-size="8.5" dx="1" dy="-6.2">-4</tspan></text><text x="42" y="118.6" text-anchor="end" font-family='"Liberation Sans", sans-serif' font-weight="bold" font-size="12.7">10<tspan font-size="8.5" dx="1" dy="-6.2">-6</tspan></text><text x="42" y="151.6" text-anchor="end" font-family='"Liberation Sans", sans-serif' font-weight="bold" font-size="12.7">10<tspan font-size="8.5" dx="1" dy="-6.2">-8</tspan></text><text x="42" y="184.6" text-anchor="end" font-family='"Liberation Sans", sans-serif' font-weight="bold" font-size="12.7">10<tspan font-size="8.5" dx="1" dy="-6.2">-10</tspan></text><text x="42" y="217.6" text-anchor="end" font-family='"Liberation Sans", sans-serif' font-weight="bold" font-size="12.7">10<tspan font-size="8.5" dx="1" dy="-6.2">-12</tspan></text>
<text transform="translate(10,124.5) rotate(-90)" text-anchor="middle" font-family='"Liberation Sans", sans-serif' font-weight="bold" font-style="italic" font-size="13.7">Abs Current <tspan font-style="normal">(A)</tspan></text>
<text x="56.4" y="228" text-anchor="middle" font-family='"Liberation Sans", sans-serif' font-weight="bold" font-size="12.5">-1</text>
<text x="73.8" y="228" text-anchor="middle" font-family='"Liberation Sans", sans-serif' font-weight="bold" font-size="12.5">0</text>
<text x="91.3" y="228" text-anchor="middle" font-family='"Liberation Sans", sans-serif' font-weight="bold" font-size="12.5">1</text>
<text x="113" y="228" text-anchor="middle" font-family='"Liberation Sans", sans-serif' font-weight="bold" font-size="12.5">-1</text>
<text x="130.6" y="228" text-anchor="middle" font-family='"Liberation Sans", sans-serif' font-weight="bold" font-size="12.5">0</text>
<text x="149" y="228" text-anchor="middle" font-family='"Liberation Sans", sans-serif' font-weight="bold" font-size="12.5">1</text>
<text x="171" y="228" text-anchor="middle" font-family='"Liberation Sans", sans-serif' font-weight="bold" font-size="12.5">-1</text>
<text x="189" y="228" text-anchor="middle" font-family='"Liberation Sans", sans-serif' font-weight="bold" font-size="12.5">0</text>
<text x="206.7" y="228" text-anchor="middle" font-family='"Liberation Sans", sans-serif' font-weight="bold" font-size="12.5">1</text>
<text x="227" y="228" text-anchor="middle" font-family='"Liberation Sans", sans-serif' font-weight="bold" font-size="12.5">-1</text>
<text x="241" y="228" text-anchor="middle" font-family='"Liberation Sans", sans-serif' font-weight="bold" font-size="12.5">0</text>
<text x="256" y="228" text-anchor="middle" font-family='"Liberation Sans", sans-serif' font-weight="bold" font-size="12.5">1</text>
<text x="270.6" y="228" text-anchor="middle" font-family='"Liberation Sans", sans-serif' font-weight="bold" font-size="12.5">2</text>
<text x="162" y="242" text-anchor="middle" font-family='"Liberation Sans", sans-serif' font-weight="bold" font-size="14">Applied Bias Voltage (V)</text>
<line x1="337.1" y1="48.5" x2="337.1" y2="211" stroke="#bdbdbd" stroke-width="0.8" stroke-dasharray="0.8,1.6"/><line x1="371.4" y1="48.5" x2="371.4" y2="211" stroke="#bdbdbd" stroke-width="0.8" stroke-dasharray="0.8,1.6"/><line x1="405.7" y1="48.5" x2="405.7" y2="211" stroke="#bdbdbd" stroke-width="0.8" stroke-dasharray="0.8,1.6"/><line x1="440.0" y1="48.5" x2="440.0" y2="211" stroke="#bdbdbd" stroke-width="0.8" stroke-dasharray="0.8,1.6"/><line x1="474.3" y1="48.5" x2="474.3" y2="211" stroke="#bdbdbd" stroke-width="0.8" stroke-dasharray="0.8,1.6"/><line x1="508.6" y1="48.5" x2="508.6" y2="211" stroke="#bdbdbd" stroke-width="0.8" stroke-dasharray="0.8,1.6"/><line x1="542.9" y1="48.5" x2="542.9" y2="211" stroke="#bdbdbd" stroke-width="0.8" stroke-dasharray="0.8,1.6"/><line x1="333" y1="197.0" x2="548" y2="197.0" stroke="#bdbdbd" stroke-width="0.8" stroke-dasharray="0.8,1.6"/><line x1="333" y1="180.4" x2="548" y2="180.4" stroke="#bdbdbd" stroke-width="0.8" stroke-dasharray="0.8,1.6"/><line x1="333" y1="163.9" x2="548" y2="163.9" stroke="#bdbdbd" stroke-width="0.8" stroke-dasharray="0.8,1.6"/><line x1="333" y1="147.3" x2="548" y2="147.3" stroke="#bdbdbd" stroke-width="0.8" stroke-dasharray="0.8,1.6"/><line x1="333" y1="130.8" x2="548" y2="130.8" stroke="#bdbdbd" stroke-width="0.8" stroke-dasharray="0.8,1.6"/><line x1="333" y1="114.2" x2="548" y2="114.2" stroke="#bdbdbd" stroke-width="0.8" stroke-dasharray="0.8,1.6"/><line x1="333" y1="97.7" x2="548" y2="97.7" stroke="#bdbdbd" stroke-width="0.8" stroke-dasharray="0.8,1.6"/><line x1="333" y1="81.1" x2="548" y2="81.1" stroke="#bdbdbd" stroke-width="0.8" stroke-dasharray="0.8,1.6"/><line x1="333" y1="64.5" x2="548" y2="64.5" stroke="#bdbdbd" stroke-width="0.8" stroke-dasharray="0.8,1.6"/>
<polyline points="337.0,92.8 355.5,96.0 370.7,102.5 387.0,110.0 400.0,115.2 414.0,120.5 424.0,125.5 432.0,132.5 436.0,140.0 438.5,150.0 439.5,165.0" fill="none" stroke="#808080" stroke-width="1.0" stroke-linejoin="round" stroke-linecap="round" /><polyline points="337.0,94.1 355.5,97.3 370.7,103.8 387.0,111.0 400.0,116.1 414.0,121.3 424.0,126.2 432.0,132.5 436.0,140.0 438.5,150.0 439.5,165.0" fill="none" stroke="#808080" stroke-width="1.0" stroke-linejoin="round" stroke-linecap="round" /><polyline points="337.0,95.2 355.5,98.4 370.7,104.9 387.0,111.9 400.0,116.9 414.0,121.9 424.0,126.7 432.0,132.5 436.0,140.0 438.5,150.0 439.5,165.0" fill="none" stroke="#808080" stroke-width="1.0" stroke-linejoin="round" stroke-linecap="round" /><polyline points="360.0,99.0 371.0,102.0 372.5,99.5 374.0,103.0" fill="none" stroke="#808080" stroke-width="1.0" stroke-linejoin="round" stroke-linecap="round" /><polyline points="400.7,115.4 402.6,90.5 404.5,115.4" fill="none" stroke="#808080" stroke-width="1.0" stroke-linejoin="round" stroke-linecap="round" /><polyline points="410.3,120.0 410.5,95.0 410.7,80.8 414.0,82.7 417.0,78.9 419.0,83.4 421.0,82.0 421.5,101.0" fill="none" stroke="#808080" stroke-width="1.0" stroke-linejoin="round" stroke-linecap="round" /><polyline points="415.0,122.0 417.0,103.6 419.6,108.2" fill="none" stroke="#808080" stroke-width="1.0" stroke-linejoin="round" stroke-linecap="round" /><polyline points="413.0,116.0 413.5,123.0" fill="none" stroke="#808080" stroke-width="0.9" stroke-linejoin="round" stroke-linecap="round" /><polyline points="415.0,116.0 415.5,123.0" fill="none" stroke="#808080" stroke-width="0.9" stroke-linejoin="round" stroke-linecap="round" /><polyline points="417.0,116.0 417.5,123.0" fill="none" stroke="#808080" stroke-width="0.9" stroke-linejoin="round" stroke-linecap="round" /><polyline points="419.0,116.0 419.5,123.0" fill="none" stroke="#808080" stroke-width="0.9" stroke-linejoin="round" stroke-linecap="round" /><polyline points="425.0,131.0 431.0,137.0 434.0,141.0 436.0,132.0 437.5,142.0 439.5,160.0" fill="none" stroke="#808080" stroke-width="1.0" stroke-linejoin="round" stroke-linecap="round" /><polyline points="400.0,122.0 415.0,128.5 428.0,137.0 434.0,144.0 438.0,155.0" fill="none" stroke="#808080" stroke-width="1.0" stroke-linejoin="round" stroke-linecap="round" /><polyline points="439.5,160.0 441.5,142.0 443.0,132.0 444.5,141.0 449.0,134.5 461.0,128.0 476.0,123.0" fill="none" stroke="#808080" stroke-width="1.0" stroke-linejoin="round" stroke-linecap="round" /><polyline points="440.5,156.0 444.0,143.0 450.0,135.5 463.0,128.5" fill="none" stroke="#808080" stroke-width="1.0" stroke-linejoin="round" stroke-linecap="round" /><polyline points="470.1,80.6 468.4,120.6" fill="none" stroke="#808080" stroke-width="1.0" stroke-linejoin="round" stroke-linecap="round" /><polyline points="473.0,80.6 471.3,120.0" fill="none" stroke="#808080" stroke-width="1.0" stroke-linejoin="round" stroke-linecap="round" /><polyline points="476.0,80.6 474.3,119.4" fill="none" stroke="#808080" stroke-width="1.0" stroke-linejoin="round" stroke-linecap="round" /><polyline points="481.1,80.6 479.4,118.4" fill="none" stroke="#808080" stroke-width="1.0" stroke-linejoin="round" stroke-linecap="round" /><polyline points="484.0,80.6 482.3,117.9" fill="none" stroke="#808080" stroke-width="1.0" stroke-linejoin="round" stroke-linecap="round" /><polyline points="486.9,80.6 485.2,117.3" fill="none" stroke="#808080" stroke-width="1.0" stroke-linejoin="round" stroke-linecap="round" /><polyline points="489.1,80.6 487.4,116.9" fill="none" stroke="#808080" stroke-width="1.0" stroke-linejoin="round" stroke-linecap="round" /><polyline points="491.3,80.6 489.6,116.5" fill="none" stroke="#808080" stroke-width="1.0" stroke-linejoin="round" stroke-linecap="round" /><polyline points="497.9,80.6 496.2,115.2" fill="none" stroke="#808080" stroke-width="1.0" stroke-linejoin="round" stroke-linecap="round" /><polyline points="500.8,80.6 499.1,114.6" fill="none" stroke="#808080" stroke-width="1.0" stroke-linejoin="round" stroke-linecap="round" /><polyline points="503.7,80.6 502.0,114.0" fill="none" stroke="#808080" stroke-width="1.0" stroke-linejoin="round" stroke-linecap="round" /><polyline points="507.4,80.6 505.7,113.3" fill="none" stroke="#808080" stroke-width="1.0" stroke-linejoin="round" stroke-linecap="round" /><polyline points="468.2,120.6 505.4,113.3" fill="none" stroke="#808080" stroke-width="1.0" stroke-linejoin="round" stroke-linecap="round" /><polyline points="505.4,113.3 506.0,110.0 516.0,104.0 519.0,101.0" fill="none" stroke="#808080" stroke-width="1.0" stroke-linejoin="round" stroke-linecap="round" /><polyline points="446.0,140.0 452.0,132.0 464.0,127.0 476.6,122.0 493.7,114.0" fill="none" stroke="#808080" stroke-width="1.0" stroke-linejoin="round" stroke-linecap="round" />
<polyline points="337.0,94.0 360.0,99.5 385.0,110.0 405.0,118.5 419.8,118.0" fill="none" stroke="#707070" stroke-width="1.0" stroke-linejoin="round" stroke-linecap="round" />
<polyline points="337.0,96.5 361.8,104.0 381.0,112.0 400.0,123.9 414.6,130.5 429.2,141.4 433.6,146.0 437.0,156.0 439.0,170.0 439.5,179.5" fill="none" stroke="#0000ff" stroke-width="3.2" stroke-linejoin="round" stroke-linecap="round" />
<polygon points="417.5,126 419,116 421,117 421.5,128" fill="#0000ff"/>
<polyline points="425.2,101.0 426.0,88.0 427.5,82.3 429.2,82.0 433.2,86.5 436.5,95.0 438.5,105.0 439.5,117.0" fill="none" stroke="#0000ff" stroke-width="2.6" stroke-linejoin="round" stroke-linecap="round" />
<polyline points="439.5,117.0 440.5,105.0 442.0,91.0 444.0,81.0 452.3,80.4 548.0,80.4" fill="none" stroke="#0000ff" stroke-width="2.6" stroke-linejoin="round" stroke-linecap="round" />
<polyline points="439.5,175.0 440.5,158.0 442.4,146.0 451.2,137.0 464.3,129.0 477.0,122.5 493.7,113.0 495.2,95.0 496.8,80.6" fill="none" stroke="#0000ff" stroke-width="2.8" stroke-linejoin="round" stroke-linecap="round" />
<polyline points="419.8,118.0 421.2,100.0 422.2,85.0 423.5,77.5 425.0,76.0 427.3,76.3 430.0,78.0 433.6,82.5 437.0,90.0 438.7,100.0 439.5,115.0" fill="none" stroke="#555" stroke-width="3.6" stroke-linejoin="round" stroke-linecap="round" />
<polyline points="419.8,118.0 421.2,100.0 422.2,85.0 423.5,77.5 425.0,76.0 427.3,76.3 430.0,78.0 433.6,82.5 437.0,90.0 438.7,100.0 439.5,115.0" fill="none" stroke="#000000" stroke-width="2.6" stroke-linejoin="round" stroke-linecap="round" />
<polyline points="439.5,115.0 441.0,100.0 443.0,88.0 446.0,82.0 452.0,80.6 522.2,80.6 520.0,95.0 518.6,101.6 496.0,111.8" fill="none" stroke="#000000" stroke-width="2.6" stroke-linejoin="round" stroke-linecap="round" />
<polyline points="337.0,106.7 368.0,113.0 387.3,117.5 400.0,120.2 421.9,127.5 429.2,133.4 435.0,140.7 437.3,146.0 439.0,156.0 439.5,167.5" fill="none" stroke="#ff0000" stroke-width="2.8" stroke-linejoin="round" stroke-linecap="round" />
<polyline points="422.3,128.0 423.2,120.0 425.2,95.0 426.0,86.5 429.2,82.7 435.0,90.4 438.0,101.0 439.5,116.0" fill="none" stroke="#ff0000" stroke-width="2.8" stroke-linejoin="round" stroke-linecap="round" />
<polyline points="439.5,116.0 441.0,100.0 443.4,91.0 448.5,82.3 453.5,80.4 548.0,80.4" fill="none" stroke="#ff0000" stroke-width="2.8" stroke-linejoin="round" stroke-linecap="round" />
<polyline points="439.5,167.0 441.0,152.0 443.0,144.0 448.2,132.0 458.5,126.0 476.0,121.0 477.5,110.0 479.6,80.6" fill="none" stroke="#ff0000" stroke-width="2.8" stroke-linejoin="round" stroke-linecap="round" />
<g fill="none" stroke="#000">
<rect x="331.5" y="48" width="216.8" height="164" stroke-width="1.6"/>
<line x1="331.5" y1="47" x2="331.5" y2="213" stroke-width="2.6"/>
<line x1="330" y1="211.8" x2="550" y2="211.8" stroke-width="2.2"/>
</g>
<line x1="332.5" y1="53.5" x2="334.5" y2="53.5" stroke="#000" stroke-width="1"/><line x1="332.5" y1="59.0" x2="334.5" y2="59.0" stroke="#000" stroke-width="1"/><line x1="332.5" y1="64.5" x2="335.5" y2="64.5" stroke="#000" stroke-width="1"/><line x1="332.5" y1="70.1" x2="334.5" y2="70.1" stroke="#000" stroke-width="1"/><line x1="332.5" y1="75.6" x2="334.5" y2="75.6" stroke="#000" stroke-width="1"/><line x1="332.5" y1="81.1" x2="335.5" y2="81.1" stroke="#000" stroke-width="1"/><line x1="332.5" y1="86.6" x2="334.5" y2="86.6" stroke="#000" stroke-width="1"/><line x1="332.5" y1="92.1" x2="334.5" y2="92.1" stroke="#000" stroke-width="1"/><line x1="332.5" y1="97.7" x2="335.5" y2="97.7" stroke="#000" stroke-width="1"/><line x1="332.5" y1="103.2" x2="334.5" y2="103.2" stroke="#000" stroke-width="1"/><line x1="332.5" y1="108.7" x2="334.5" y2="108.7" stroke="#000" stroke-width="1"/><line x1="332.5" y1="114.2" x2="335.5" y2="114.2" stroke="#000" stroke-width="1"/><line x1="332.5" y1="119.7" x2="334.5" y2="119.7" stroke="#000" stroke-width="1"/><line x1="332.5" y1="125.2" x2="334.5" y2="125.2" stroke="#000" stroke-width="1"/><line x1="332.5" y1="130.8" x2="335.5" y2="130.8" stroke="#000" stroke-width="1"/><line x1="332.5" y1="136.3" x2="334.5" y2="136.3" stroke="#000" stroke-width="1"/><line x1="332.5" y1="141.8" x2="334.5" y2="141.8" stroke="#000" stroke-width="1"/><line x1="332.5" y1="147.3" x2="335.5" y2="147.3" stroke="#000" stroke-width="1"/><line x1="332.5" y1="152.8" x2="334.5" y2="152.8" stroke="#000" stroke-width="1"/><line x1="332.5" y1="158.3" x2="334.5" y2="158.3" stroke="#000" stroke-width="1"/><line x1="332.5" y1="163.9" x2="335.5" y2="163.9" stroke="#000" stroke-width="1"/><line x1="332.5" y1="169.4" x2="334.5" y2="169.4" stroke="#000" stroke-width="1"/><line x1="332.5" y1="174.9" x2="334.5" y2="174.9" stroke="#000" stroke-width="1"/><line x1="332.5" y1="180.4" x2="335.5" y2="180.4" stroke="#000" stroke-width="1"/><line x1="332.5" y1="185.9" x2="334.5" y2="185.9" stroke="#000" stroke-width="1"/><line x1="332.5" y1="191.4" x2="334.5" y2="191.4" stroke="#000" stroke-width="1"/><line x1="332.5" y1="197.0" x2="335.5" y2="197.0" stroke="#000" stroke-width="1"/><line x1="332.5" y1="202.5" x2="334.5" y2="202.5" stroke="#000" stroke-width="1"/><line x1="332.5" y1="208.0" x2="334.5" y2="208.0" stroke="#000" stroke-width="1"/><line x1="337.1" y1="211" x2="337.1" y2="208" stroke="#000" stroke-width="1"/><line x1="354.2" y1="211" x2="354.2" y2="209" stroke="#000" stroke-width="1"/><line x1="371.4" y1="211" x2="371.4" y2="208" stroke="#000" stroke-width="1"/><line x1="388.6" y1="211" x2="388.6" y2="209" stroke="#000" stroke-width="1"/><line x1="405.7" y1="211" x2="405.7" y2="208" stroke="#000" stroke-width="1"/><line x1="422.9" y1="211" x2="422.9" y2="209" stroke="#000" stroke-width="1"/><line x1="440.0" y1="211" x2="440.0" y2="208" stroke="#000" stroke-width="1"/><line x1="457.1" y1="211" x2="457.1" y2="209" stroke="#000" stroke-width="1"/><line x1="474.3" y1="211" x2="474.3" y2="208" stroke="#000" stroke-width="1"/><line x1="491.4" y1="211" x2="491.4" y2="209" stroke="#000" stroke-width="1"/><line x1="508.6" y1="211" x2="508.6" y2="208" stroke="#000" stroke-width="1"/><line x1="525.8" y1="211" x2="525.8" y2="209" stroke="#000" stroke-width="1"/><line x1="542.9" y1="211" x2="542.9" y2="208" stroke="#000" stroke-width="1"/>
<rect x="335.2" y="167.4" width="89" height="36.5" fill="#fff" stroke="#c0c0c0" stroke-width="1"/>
<line x1="344.6" y1="174.4" x2="361.7" y2="174.4" stroke="#000" stroke-width="2.8"/>
<text x="365.4" y="177.4" font-family='"Liberation Sans", sans-serif' font-weight="bold" font-size="9.3" fill="#000">1st Sweep</text>
<line x1="344.6" y1="187" x2="361.7" y2="187" stroke="#0000ff" stroke-width="2.8"/>
<text x="365.4" y="190" font-family='"Liberation Sans", sans-serif' font-weight="bold" font-size="9.3" fill="#0000ff">25th Sweep</text>
<line x1="344.6" y1="199.3" x2="361.7" y2="199.3" stroke="#ff0000" stroke-width="2.8"/>
<text x="365.4" y="202.3" font-family='"Liberation Sans", sans-serif' font-weight="bold" font-size="9.3" fill="#ff0000">50th Sweep</text>
<text x="435.5" y="15.5" text-anchor="middle" font-family='"Liberation Sans", sans-serif' font-weight="bold" font-size="19" letter-spacing="1.3">(b)</text>
<text x="440.5" y="37.3" text-anchor="middle" font-family='"Liberation Sans", sans-serif' font-weight="bold" font-size="12.3">Cu<tspan font-size="8.7" dy="3.5">0.27</tspan><tspan dy="-3.5">Sn</tspan><tspan font-size="8.7" dy="3.5">0.73</tspan><tspan dy="-3.5">/Al</tspan><tspan font-size="8.7" dy="3.5">2</tspan><tspan dy="-3.5">O</tspan><tspan font-size="8.7" dy="3.5">3</tspan><tspan dy="-3.5">(3nm)/Pt</tspan></text>
<text x="327.8" y="52.6" text-anchor="end" font-family='"Liberation Sans", sans-serif' font-weight="bold" font-size="12.7">10<tspan font-size="8.5" dx="0" dy="-6.2">-2</tspan></text><text x="327.8" y="85.6" text-anchor="end" font-family='"Liberation Sans", sans-serif' font-weight="bold" font-size="12.7">10<tspan font-size="8.5" dx="0" dy="-6.2">-4</tspan></text><text x="327.8" y="118.6" text-anchor="end" font-family='"Liberation Sans", sans-serif' font-weight="bold" font-size="12.7">10<tspan font-size="8.5" dx="0" dy="-6.2">-6</tspan></text><text x="327.8" y="151.6" text-anchor="end" font-family='"Liberation Sans", sans-serif' font-weight="bold" font-size="12.7">10<tspan font-size="8.5" dx="0" dy="-6.2">-8</tspan></text><text x="327.8" y="184.6" text-anchor="end" font-family='"Liberation Sans", sans-serif' font-weight="bold" font-size="12.7">10<tspan font-size="8.5" dx="0" dy="-6.2">-10</tspan></text><text x="327.8" y="217.6" text-anchor="end" font-family='"Liberation Sans", sans-serif' font-weight="bold" font-size="12.7">10<tspan font-size="8.5" dx="0" dy="-6.2">-12</tspan></text>
<text transform="translate(297.8,129.5) rotate(-90)" text-anchor="middle" font-family='"Liberation Sans", sans-serif' font-weight="bold" font-style="italic" font-size="13.7">Abs Current <tspan font-style="normal">(A)</tspan></text>
<text x="336.6" y="227" text-anchor="middle" font-family='"Liberation Sans", sans-serif' font-weight="bold" font-size="12">-1.5</text>
<text x="370.9" y="227" text-anchor="middle" font-family='"Liberation Sans", sans-serif' font-weight="bold" font-size="12">-1.0</text>
<text x="405.2" y="227" text-anchor="middle" font-family='"Liberation Sans", sans-serif' font-weight="bold" font-size="12">-0.5</text>
<text x="439.5" y="227" text-anchor="middle" font-family='"Liberation Sans", sans-serif' font-weight="bold" font-size="12">0.0</text>
<text x="473.8" y="227" text-anchor="middle" font-family='"Liberation Sans", sans-serif' font-weight="bold" font-size="12">0.5</text>
<text x="508.1" y="227" text-anchor="middle" font-family='"Liberation Sans", sans-serif' font-weight="bold" font-size="12">1.0</text>
<text x="542.4" y="227" text-anchor="middle" font-family='"Liberation Sans", sans-serif' font-weight="bold" font-size="12">1.5</text>
<text x="439" y="241.2" text-anchor="middle" font-family='"Liberation Sans", sans-serif' font-weight="bold" font-size="12.8">Applied Bias Voltage (V)</text>
</svg>
</body></html>
